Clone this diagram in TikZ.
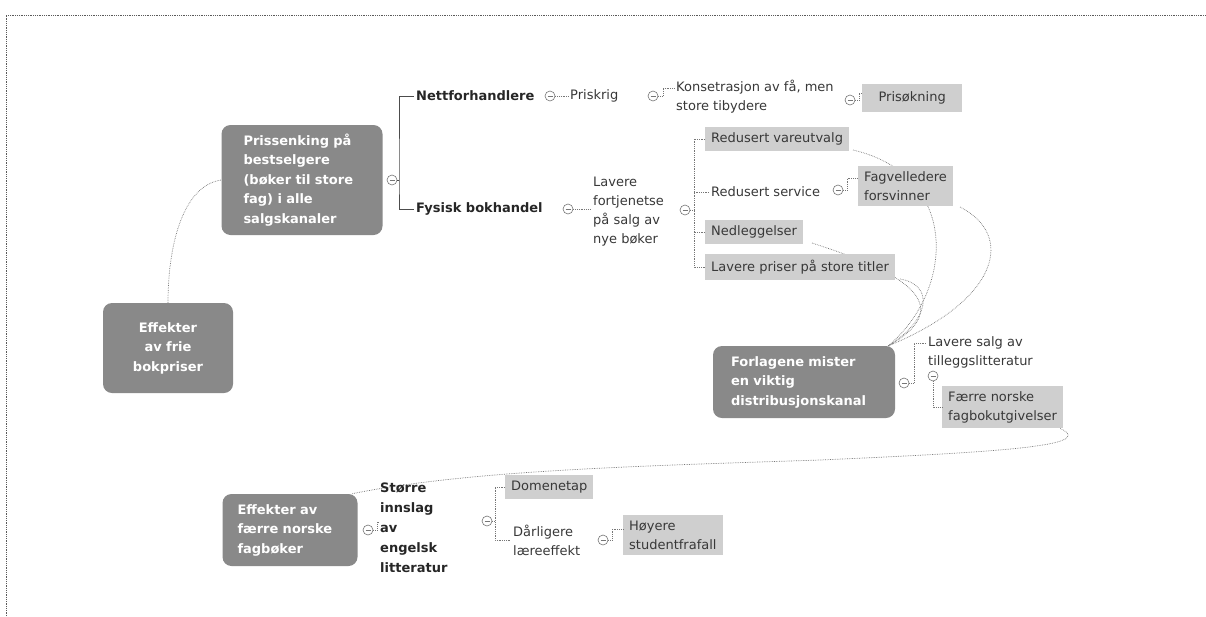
\documentclass[tikz,border=0pt]{standalone}
\usepackage{fontspec}
\setmainfont{DejaVu Sans}
\usetikzlibrary{calc}
\definecolor{darkfill}{HTML}{898989}
\definecolor{lightfill}{HTML}{CFCFCF}
\definecolor{linegray}{HTML}{767676}
\definecolor{framegray}{HTML}{5A5A5A}
\definecolor{textgray}{HTML}{383838}
\begin{document}
\begin{tikzpicture}[x=1pt,y=-1pt,
  txt/.style={font=\fontsize{13}{19}\selectfont, text=textgray, inner sep=2pt, align=left},
  btxt/.style={font=\fontsize{13}{20}\selectfont\bfseries, text=black!85, inner sep=2pt, align=left},
  darkbox/.style={rounded corners=9pt, fill=darkfill, text=white, font=\fontsize{13}{19.5}\selectfont\bfseries, inner ysep=0pt},
  lightbox/.style={fill=lightfill, text=textgray, font=\fontsize{13}{19}\selectfont, inner xsep=6pt, inner ysep=5.5pt, align=left},
  link/.style={draw=linegray, densely dotted, line width=0.8pt},
  mainlink/.style={draw=black!70, line width=0.9pt},
  rel/.style={draw=linegray, densely dotted, line width=0.7pt},
  tog/.style={circle, draw=linegray, line width=0.6pt, minimum size=10pt, inner sep=0pt, fill=white,
    path picture={\draw[linegray, line width=0.8pt] ([xshift=-2.5pt]path picture bounding box.center) -- ([xshift=2.5pt]path picture bounding box.center);}}
]
\useasboundingbox (0,0) rectangle (1206,616);
\draw[framegray, densely dotted, line width=0.8pt] (6,616) -- (6,15) -- (1206,15);

% relationship curves (behind boxes)
\coordinate (vuse) at (853,150);
\coordinate (fagse) at (960,207);
\coordinate (nedse) at (812,243);
\coordinate (lpse) at (900,279);
\coordinate (conv) at (888,346);
\draw[rel] (vuse) .. controls (960,175) and (955,290) .. (conv);
\draw[rel] (fagse) .. controls (1015,235) and (1000,300) .. (conv);
\draw[rel] (nedse) .. controls (880,265) and (970,300) .. (conv);
\draw[rel] (lpse) .. controls (935,285) and (930,320) .. (conv);

% nodes
\node[darkbox, minimum width=130, minimum height=90, text width=100, inner xsep=15pt, align=center] (root) at (168,348) {Effekter\\av frie\\bokpriser};
\node[darkbox, minimum height=110, text width=117, inner xsep=22pt, align=left] (pris) at (302,180) {Prissenking på\\bestselgere\\(bøker til store\\fag) i alle\\salgskanaler};
\draw[rel] (root.north) .. controls (168,240) and (185,185) .. (pris.west);

\node[tog] (ta) at (392,180) {};
\node[btxt, anchor=west] (nett) at (414,96) {Nettforhandlere};
\node[btxt, anchor=west] (fys) at (414,209) {Fysisk bokhandel};
\coordinate (b1) at (399,180);
\draw[mainlink] (ta.east) -- (b1);
\draw[mainlink] (nett.west) -| (b1) |- (fys.west);

\node[tog] (tb) at (550,96) {};
\node[txt, anchor=west] (pk) at (568,96) {Priskrig};
\draw[link] (tb.east) -- (pk.west);
\node[tog] (tc) at (653,96) {};
\node[txt, anchor=west] (kons) at (674,97) {Konsetrasjon av få, men\\store tibydere};
\draw[link] (tc.east) -- ++(5,0) |- ($(kons.west)+(0,-9)$);
\node[tog] (td) at (850,100) {};
\node[lightbox, anchor=west, minimum width=100, minimum height=28, align=center] (prisok) at (862,98) {Prisøkning};
\draw[link] (td.east) -- ++(4,0) |- ($(prisok.west)+(0,-5)$);

\node[tog] (te) at (568,209) {};
\node[txt, anchor=west] (lf) at (591,212) {Lavere\\fortjenetse\\på salg av\\nye bøker};
\draw[link] (te.east) -- (lf.west |- te.east);
\node[tog] (tf) at (685,210) {};
\node[lightbox, anchor=west] (vu) at (705,139) {Redusert vareutvalg};
\node[txt, anchor=west] (rs) at (709,192) {Redusert service};
\node[lightbox, anchor=west] (ned) at (705,232) {Nedleggelser};
\node[lightbox, anchor=west] (lp) at (705,267) {Lavere priser på store titler};
\coordinate (b2) at (694,210);
\draw[link] (tf.east) -- (b2);
\draw[link] (vu.west) -| (b2) |- (lp.west);
\draw[link] (rs.west) -- (rs.west -| b2);
\draw[link] (ned.west) -- (ned.west -| b2);
\node[tog] (tg) at (838,190) {};
\node[lightbox, anchor=west] (fag) at (858,186) {Fagvelledere\\forsvinner};
\draw[link] (tg.east) -- ++(4,0) |- ($(fag.west)+(0,-8)$);

\node[darkbox, minimum height=72, text width=146, inner xsep=18pt, align=left] (forl) at (804,382) {Forlagene mister\\en viktig\\distribusjonskanal};
\node[tog] (th) at (904,383) {};
\node[txt, anchor=west] (lsa) at (926,352) {Lavere salg av\\tilleggslitteratur};
\draw[link] (th.east) -- ++(5,0) |- ($(lsa.west)+(0,-9)$);
\node[tog] (ti) at (933,376) {};
\node[lightbox, anchor=west] (faerre) at (942,407) {Færre norske\\fagbokutgivelser};
\draw[link] (ti.south) |- (faerre.west);

\node[darkbox, minimum height=72, text width=105, inner xsep=15pt, align=left] (eff2) at (290,530) {Effekter av\\færre norske\\fagbøker};
\draw[rel] ($(faerre.south east)+(-3,0)$) .. controls (1098,446) and (1000,452) .. (820,460) .. controls (640,466) and (470,470) .. ($(eff2.north east)+(-6,0)$);

\node[tog] (tj) at (368,530) {};
\node[btxt, anchor=west] (stor) at (378,528) {Større\\innslag\\av\\engelsk\\litteratur};
\draw[link] (tj.east) -- ++(4,0) |- ($(stor.west)+(0,-6)$);
\node[tog] (tk) at (487,521) {};
\node[lightbox, anchor=west] (dom) at (505,487) {Domenetap};
\node[txt, anchor=west] (dl) at (511,540) {Dårligere\\læreeffekt};
\coordinate (b3) at (495,521);
\draw[link] (tk.east) -- (b3);
\draw[link] (dom.west) -| (b3) |- (dl.west);
\node[tog] (tl) at (603,540) {};
\node[lightbox, anchor=west] (hoy) at (623,535) {Høyere\\studentfrafall};
\draw[link] (tl.east) -- ++(4,0) |- ($(hoy.west)+(0,-6)$);
\end{tikzpicture}
\end{document}
